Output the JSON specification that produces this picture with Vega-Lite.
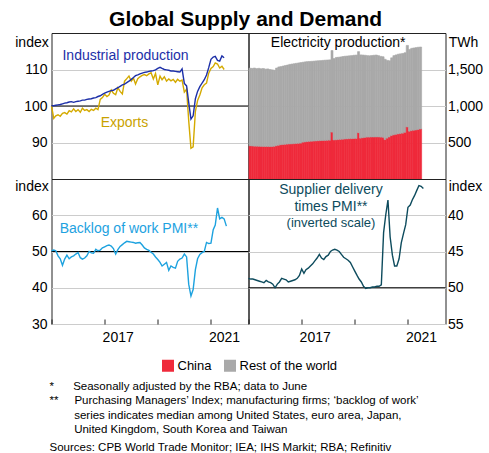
{
"$schema":"https://vega.github.io/schema/vega-lite/v6.json",
"padding":{"left":13.5,"top":9,"right":2,"bottom":2},
"title":{"text":"Global Supply and Demand","anchor":"middle","fontSize":21,"fontWeight":"bold","font":"Liberation Sans","color":"#000","offset":2.5,"dx":-3},
"spacing":4,
"config":{
 "font":"Liberation Sans",
 "view":{"stroke":"#222222","strokeWidth":1},
 "axis":{"labelFont":"Liberation Sans","labelFontSize":14,"labelColor":"#000","titleFont":"Liberation Sans","titleFontSize":14,"titleFontWeight":"normal","titleColor":"#000","ticks":false,"domain":false,"gridColor":"#cccccc","gridWidth":1,"labelOverlap":false},
 "text":{"font":"Liberation Sans"}
},
"datasets":{
"m":[
{"date":"2015-01","ip":100.0,"ex":100.0,"bk":50.2,"sd":48.7},
{"date":"2015-02","ip":100.1,"ex":96.6,"bk":50.4,"sd":48.8},
{"date":"2015-03","ip":100.2,"ex":97.3,"bk":50.2,"sd":48.8},
{"date":"2015-04","ip":100.3,"ex":97.6,"bk":48.8,"sd":48.9},
{"date":"2015-05","ip":100.4,"ex":97.2,"bk":48.0,"sd":49.0},
{"date":"2015-06","ip":100.6,"ex":98.0,"bk":46.2,"sd":49.1},
{"date":"2015-07","ip":100.8,"ex":98.2,"bk":47.9,"sd":49.2},
{"date":"2015-08","ip":100.9,"ex":97.8,"bk":49.0,"sd":49.3},
{"date":"2015-09","ip":101.1,"ex":98.7,"bk":48.0,"sd":49.0},
{"date":"2015-10","ip":101.2,"ex":98.4,"bk":48.5,"sd":49.2},
{"date":"2015-11","ip":101.0,"ex":99.2,"bk":48.8,"sd":49.3},
{"date":"2015-12","ip":101.2,"ex":98.5,"bk":49.3,"sd":49.5},
{"date":"2016-01","ip":101.3,"ex":99.0,"bk":49.7,"sd":50.0},
{"date":"2016-02","ip":101.4,"ex":98.3,"bk":48.3,"sd":49.5},
{"date":"2016-03","ip":101.6,"ex":99.4,"bk":47.9,"sd":49.2},
{"date":"2016-04","ip":101.6,"ex":98.8,"bk":48.2,"sd":48.7},
{"date":"2016-05","ip":101.8,"ex":99.0,"bk":48.8,"sd":48.8},
{"date":"2016-06","ip":101.9,"ex":98.5,"bk":50.0,"sd":48.9},
{"date":"2016-07","ip":102.0,"ex":99.1,"bk":49.6,"sd":49.2},
{"date":"2016-08","ip":102.2,"ex":98.8,"bk":49.5,"sd":49.1},
{"date":"2016-09","ip":102.3,"ex":99.4,"bk":50.6,"sd":49.0},
{"date":"2016-10","ip":102.6,"ex":99.0,"bk":50.2,"sd":48.9},
{"date":"2016-11","ip":102.8,"ex":101.8,"bk":50.4,"sd":48.7},
{"date":"2016-12","ip":103.2,"ex":102.3,"bk":51.0,"sd":48.3},
{"date":"2017-01","ip":103.5,"ex":103.2,"bk":51.3,"sd":47.4},
{"date":"2017-02","ip":103.8,"ex":102.6,"bk":51.6,"sd":48.0},
{"date":"2017-03","ip":104.0,"ex":103.0,"bk":51.8,"sd":47.5},
{"date":"2017-04","ip":104.2,"ex":104.4,"bk":51.5,"sd":47.3},
{"date":"2017-05","ip":104.3,"ex":103.5,"bk":50.8,"sd":47.0},
{"date":"2017-06","ip":104.7,"ex":103.1,"bk":49.3,"sd":46.7},
{"date":"2017-07","ip":105.0,"ex":105.0,"bk":50.5,"sd":46.3},
{"date":"2017-08","ip":105.4,"ex":104.0,"bk":51.4,"sd":45.9},
{"date":"2017-09","ip":105.8,"ex":103.3,"bk":51.9,"sd":45.4},
{"date":"2017-10","ip":106.0,"ex":106.8,"bk":52.4,"sd":45.9},
{"date":"2017-11","ip":106.4,"ex":107.5,"bk":52.8,"sd":46.1},
{"date":"2017-12","ip":106.8,"ex":108.2,"bk":52.7,"sd":45.7},
{"date":"2018-01","ip":107.3,"ex":106.8,"bk":52.6,"sd":45.5},
{"date":"2018-02","ip":107.8,"ex":107.6,"bk":52.5,"sd":45.0},
{"date":"2018-03","ip":108.3,"ex":106.0,"bk":52.3,"sd":44.8},
{"date":"2018-04","ip":108.5,"ex":107.5,"bk":52.4,"sd":44.7},
{"date":"2018-05","ip":108.8,"ex":108.0,"bk":52.5,"sd":44.8},
{"date":"2018-06","ip":109.0,"ex":108.4,"bk":51.8,"sd":45.0},
{"date":"2018-07","ip":109.2,"ex":108.6,"bk":51.0,"sd":45.4},
{"date":"2018-08","ip":109.3,"ex":108.3,"bk":50.6,"sd":45.8},
{"date":"2018-09","ip":109.5,"ex":108.8,"bk":50.3,"sd":46.0},
{"date":"2018-10","ip":109.6,"ex":109.1,"bk":49.8,"sd":46.2},
{"date":"2018-11","ip":109.7,"ex":107.4,"bk":49.3,"sd":46.5},
{"date":"2018-12","ip":109.9,"ex":108.9,"bk":48.5,"sd":47.1},
{"date":"2019-01","ip":110.3,"ex":105.8,"bk":47.8,"sd":47.7},
{"date":"2019-02","ip":110.6,"ex":108.2,"bk":47.0,"sd":48.3},
{"date":"2019-03","ip":110.3,"ex":107.2,"bk":46.0,"sd":48.8},
{"date":"2019-04","ip":110.0,"ex":108.0,"bk":46.5,"sd":49.2},
{"date":"2019-05","ip":109.9,"ex":106.8,"bk":47.0,"sd":49.8},
{"date":"2019-06","ip":109.8,"ex":107.4,"bk":44.8,"sd":50.1},
{"date":"2019-07","ip":109.6,"ex":106.9,"bk":46.0,"sd":50.0},
{"date":"2019-08","ip":109.6,"ex":107.3,"bk":45.6,"sd":50.0},
{"date":"2019-09","ip":109.5,"ex":106.5,"bk":45.4,"sd":49.9},
{"date":"2019-10","ip":109.4,"ex":107.3,"bk":47.3,"sd":49.9},
{"date":"2019-11","ip":109.3,"ex":106.8,"bk":47.9,"sd":49.8},
{"date":"2019-12","ip":110.2,"ex":107.1,"bk":48.2,"sd":49.8},
{"date":"2020-01","ip":106.2,"ex":103.8,"bk":49.3,"sd":49.6},
{"date":"2020-02","ip":105.5,"ex":104.6,"bk":48.5,"sd":42.4},
{"date":"2020-03","ip":101.0,"ex":96.0,"bk":41.0,"sd":40.0},
{"date":"2020-04","ip":96.4,"ex":88.4,"bk":37.7,"sd":37.9},
{"date":"2020-05","ip":97.3,"ex":88.8,"bk":39.5,"sd":43.0},
{"date":"2020-06","ip":102.0,"ex":98.5,"bk":45.0,"sd":45.5},
{"date":"2020-07","ip":104.0,"ex":101.5,"bk":48.0,"sd":47.0},
{"date":"2020-08","ip":105.3,"ex":103.0,"bk":49.2,"sd":47.0},
{"date":"2020-09","ip":106.3,"ex":105.0,"bk":49.7,"sd":46.0},
{"date":"2020-10","ip":107.2,"ex":105.8,"bk":50.0,"sd":43.8},
{"date":"2020-11","ip":108.5,"ex":106.3,"bk":52.5,"sd":42.5},
{"date":"2020-12","ip":110.5,"ex":109.0,"bk":52.2,"sd":41.3},
{"date":"2021-01","ip":112.8,"ex":110.3,"bk":52.3,"sd":38.9},
{"date":"2021-02","ip":113.4,"ex":110.8,"bk":56.0,"sd":38.6},
{"date":"2021-03","ip":113.6,"ex":111.8,"bk":57.3,"sd":37.9},
{"date":"2021-04","ip":112.5,"ex":111.5,"bk":62.0,"sd":37.3},
{"date":"2021-05","ip":112.3,"ex":110.4,"bk":59.0,"sd":36.6},
{"date":"2021-06","ip":113.7,"ex":110.9,"bk":59.4,"sd":35.9},
{"date":"2021-07","ip":113.2,"ex":110.0,"bk":59.0,"sd":36.0},
{"date":"2021-08","ip":null,"ex":null,"bk":57.0,"sd":36.3}
],
"e":[
{"date":"2015-01","China":455,"Rest of the world":1063},
{"date":"2015-02","China":452,"Rest of the world":1063},
{"date":"2015-03","China":450,"Rest of the world":1070},
{"date":"2015-04","China":449,"Rest of the world":1063},
{"date":"2015-05","China":448,"Rest of the world":1068},
{"date":"2015-06","China":447,"Rest of the world":1063},
{"date":"2015-07","China":446,"Rest of the world":1068},
{"date":"2015-08","China":445,"Rest of the world":1060},
{"date":"2015-09","China":445,"Rest of the world":1063},
{"date":"2015-10","China":444,"Rest of the world":1056},
{"date":"2015-11","China":445,"Rest of the world":1050},
{"date":"2015-12","China":448,"Rest of the world":1042},
{"date":"2016-01","China":455,"Rest of the world":1065},
{"date":"2016-02","China":462,"Rest of the world":1073},
{"date":"2016-03","China":470,"Rest of the world":1070},
{"date":"2016-04","China":472,"Rest of the world":1076},
{"date":"2016-05","China":475,"Rest of the world":1080},
{"date":"2016-06","China":478,"Rest of the world":1084},
{"date":"2016-07","China":480,"Rest of the world":1090},
{"date":"2016-08","China":482,"Rest of the world":1093},
{"date":"2016-09","China":484,"Rest of the world":1096},
{"date":"2016-10","China":486,"Rest of the world":1099},
{"date":"2016-11","China":488,"Rest of the world":1102},
{"date":"2016-12","China":492,"Rest of the world":1103},
{"date":"2017-01","China":505,"Rest of the world":1095},
{"date":"2017-02","China":508,"Rest of the world":1097},
{"date":"2017-03","China":512,"Rest of the world":1096},
{"date":"2017-04","China":515,"Rest of the world":1095},
{"date":"2017-05","China":518,"Rest of the world":1094},
{"date":"2017-06","China":520,"Rest of the world":1095},
{"date":"2017-07","China":522,"Rest of the world":1096},
{"date":"2017-08","China":524,"Rest of the world":1096},
{"date":"2017-09","China":526,"Rest of the world":1096},
{"date":"2017-10","China":528,"Rest of the world":1097},
{"date":"2017-11","China":528,"Rest of the world":1100},
{"date":"2017-12","China":530,"Rest of the world":1100},
{"date":"2018-01","China":532,"Rest of the world":1100},
{"date":"2018-02","China":643,"Rest of the world":1117},
{"date":"2018-03","China":535,"Rest of the world":1115},
{"date":"2018-04","China":537,"Rest of the world":1128},
{"date":"2018-05","China":540,"Rest of the world":1128},
{"date":"2018-06","China":542,"Rest of the world":1130},
{"date":"2018-07","China":545,"Rest of the world":1133},
{"date":"2018-08","China":548,"Rest of the world":1134},
{"date":"2018-09","China":550,"Rest of the world":1135},
{"date":"2018-10","China":552,"Rest of the world":1136},
{"date":"2018-11","China":553,"Rest of the world":1137},
{"date":"2018-12","China":555,"Rest of the world":1140},
{"date":"2019-01","China":556,"Rest of the world":1142},
{"date":"2019-02","China":634,"Rest of the world":1111},
{"date":"2019-03","China":560,"Rest of the world":1140},
{"date":"2019-04","China":565,"Rest of the world":1133},
{"date":"2019-05","China":570,"Rest of the world":1125},
{"date":"2019-06","China":574,"Rest of the world":1116},
{"date":"2019-07","China":574,"Rest of the world":1114},
{"date":"2019-08","China":575,"Rest of the world":1117},
{"date":"2019-09","China":575,"Rest of the world":1120},
{"date":"2019-10","China":576,"Rest of the world":1122},
{"date":"2019-11","China":576,"Rest of the world":1114},
{"date":"2019-12","China":574,"Rest of the world":1106},
{"date":"2020-01","China":572,"Rest of the world":1103},
{"date":"2020-02","China":540,"Rest of the world":1100},
{"date":"2020-03","China":560,"Rest of the world":1065},
{"date":"2020-04","China":575,"Rest of the world":1045},
{"date":"2020-05","China":595,"Rest of the world":1065},
{"date":"2020-06","China":605,"Rest of the world":1085},
{"date":"2020-07","China":612,"Rest of the world":1088},
{"date":"2020-08","China":618,"Rest of the world":1092},
{"date":"2020-09","China":622,"Rest of the world":1093},
{"date":"2020-10","China":628,"Rest of the world":1092},
{"date":"2020-11","China":640,"Rest of the world":1090},
{"date":"2020-12","China":713,"Rest of the world":1117},
{"date":"2021-01","China":655,"Rest of the world":1120},
{"date":"2021-02","China":662,"Rest of the world":1128},
{"date":"2021-03","China":668,"Rest of the world":1127},
{"date":"2021-04","China":672,"Rest of the world":1128},
{"date":"2021-05","China":678,"Rest of the world":1127},
{"date":"2021-06","China":685,"Rest of the world":1123}
]
},
"vconcat":[
{"columns":2,"spacing":0,"bounds":"flush","concat":[
 {"width":197,"height":146,"layer":[
  {"data":{"values":[{}]},"mark":{"type":"rule","color":"#000","strokeWidth":1},
   "encoding":{"y":{"datum":100,"type":"quantitative","scale":{"domain":[80,120],"nice":false,"zero":false},"axis":{"values":[90,100,110],"grid":true,"title":"index","titleAngle":0,"titleAlign":"right","titleBaseline":"alphabetic","titleX":-3.3,"titleY":13,"labelPadding":4.5}}}},
  {"data":{"name":"m"},"mark":{"type":"line","color":"#d4aa00","strokeWidth":1.4},
   "encoding":{"x":{"field":"date","type":"temporal","scale":{"type":"utc","domain":[{"year":2015,"month":1,"date":1,"utc":true},{"year":2022,"month":6,"date":1,"utc":true}]},"axis":null},
   "y":{"field":"ex","type":"quantitative","scale":{"domain":[80,120],"nice":false,"zero":false},"axis":{"values":[90,100,110],"grid":true,"title":"index","titleAngle":0,"titleAlign":"right","titleBaseline":"alphabetic","titleX":-3.3,"titleY":13,"labelPadding":4.5}}}},
  {"data":{"name":"m"},"mark":{"type":"line","color":"#1c2fa8","strokeWidth":1.4},
   "encoding":{"x":{"field":"date","type":"temporal","scale":{"type":"utc","domain":[{"year":2015,"month":1,"date":1,"utc":true},{"year":2022,"month":6,"date":1,"utc":true}]},"axis":null},
   "y":{"field":"ip","type":"quantitative","scale":{"domain":[80,120],"nice":false,"zero":false},"axis":{"values":[90,100,110],"grid":true,"title":"index","titleAngle":0,"titleAlign":"right","titleBaseline":"alphabetic","titleX":-3.3,"titleY":13,"labelPadding":4.5}}}},
  {"data":{"values":[{}]},"mark":{"type":"text","text":"Industrial production","align":"left","baseline":"alphabetic","fontSize":14,"color":"#1c2fa8"},
   "encoding":{"x":{"datum":{"year":2015,"month":6,"date":1,"utc":true},"type":"temporal","scale":{"type":"utc","domain":[{"year":2015,"month":1,"date":1,"utc":true},{"year":2022,"month":6,"date":1,"utc":true}]},"axis":null},
   "y":{"datum":112.6,"type":"quantitative","scale":{"domain":[80,120],"nice":false,"zero":false}}}},
  {"data":{"values":[{}]},"mark":{"type":"text","text":"Exports","align":"left","baseline":"alphabetic","fontSize":14,"color":"#c9a200"},
   "encoding":{"x":{"datum":{"year":2016,"month":11,"date":7,"utc":true},"type":"temporal","scale":{"type":"utc","domain":[{"year":2015,"month":1,"date":1,"utc":true},{"year":2022,"month":6,"date":1,"utc":true}]},"axis":null},
   "y":{"datum":94.25,"type":"quantitative","scale":{"domain":[80,120],"nice":false,"zero":false}}}}
 ]},
 {"width":197,"height":146,"layer":[
  {"data":{"name":"e"},"transform":[{"fold":["China","Rest of the world"],"as":["series","value"]}],
   "mark":{"type":"bar","binSpacing":0,"strokeWidth":0.6},
   "encoding":{"x":{"field":"date","timeUnit":"utcyearmonth","type":"temporal","scale":{"type":"utc","domain":[{"year":2015,"month":1,"date":1,"utc":true},{"year":2022,"month":6,"date":1,"utc":true}]},"axis":null},
   "y":{"field":"value","type":"quantitative","stack":"zero","scale":{"domain":[0,2000],"nice":false},"axis":{"orient":"right","values":[500,1000,1500],"format":",.0f","grid":true,"title":"TWh","titleAngle":0,"titleAlign":"left","titleBaseline":"alphabetic","titleX":2.7,"titleY":13,"labelPadding":2}},
   "color":{"field":"series","type":"nominal","scale":{"domain":["China","Rest of the world"],"range":["#ef2a3b","#a9a9a9"]},
     "legend":{"orient":"none","legendX":110,"legendY":326,"direction":"horizontal","title":null,"symbolType":"square","symbolSize":144,"symbolStrokeWidth":0,"symbolOpacity":1,"labelFontSize":13,"labelFont":"Liberation Sans","labelColor":"#000","labelOffset":3,"columnPadding":12}},
   "stroke":{"field":"series","type":"nominal","scale":{"domain":["China","Rest of the world"],"range":["#ef2a3b","#a9a9a9"]},"legend":null},
   "order":{"field":"series","sort":"ascending"}}},
  {"data":{"values":[{}]},"mark":{"type":"text","text":"Electricity production*","align":"center","baseline":"alphabetic","fontSize":14,"color":"#000"},
   "encoding":{"x":{"datum":{"year":2018,"month":5,"date":17,"utc":true},"type":"temporal","scale":{"type":"utc","domain":[{"year":2015,"month":1,"date":1,"utc":true},{"year":2022,"month":6,"date":1,"utc":true}]},"axis":null},
   "y":{"datum":1806,"type":"quantitative","scale":{"domain":[0,2000],"nice":false}}}}
 ]},
 {"width":197,"height":145,"layer":[
  {"data":{"values":[{}]},"mark":{"type":"rule","color":"#000","strokeWidth":1},
   "encoding":{"y":{"datum":50,"type":"quantitative","scale":{"domain":[30,70],"nice":false,"zero":false},"axis":{"values":[30,40,50,60],"grid":true,"title":"index","titleAngle":0,"titleAlign":"right","titleBaseline":"alphabetic","titleX":-3.3,"titleY":11.5,"labelPadding":4.5}}}},
  {"data":{"name":"m"},"mark":{"type":"line","color":"#1da2df","strokeWidth":1.4},
   "encoding":{"x":{"field":"date","type":"temporal","scale":{"type":"utc","domain":[{"year":2015,"month":1,"date":1,"utc":true},{"year":2022,"month":6,"date":1,"utc":true}]},
     "axis":{"values":[{"year":2015,"month":1,"date":1,"utc":true},{"year":2016,"month":1,"date":1,"utc":true},{"year":2017,"month":1,"date":1,"utc":true},{"year":2018,"month":1,"date":1,"utc":true},{"year":2019,"month":1,"date":1,"utc":true},{"year":2020,"month":1,"date":1,"utc":true},{"year":2021,"month":1,"date":1,"utc":true},{"year":2022,"month":1,"date":1,"utc":true}],"format":"%Y","formatType":"utc","labelExpr":"datum.label=='2017'||datum.label=='2021'?datum.label:''","labelOffset":13,"ticks":true,"tickSize":-5,"tickColor":"#222222","labelPadding":22.5,"labelBaseline":"alphabetic","labelFlush":false,"grid":false,"title":null}},
   "y":{"field":"bk","type":"quantitative","scale":{"domain":[30,70],"nice":false,"zero":false},"axis":{"values":[30,40,50,60],"grid":true,"title":"index","titleAngle":0,"titleAlign":"right","titleBaseline":"alphabetic","titleX":-3.3,"titleY":11.5,"labelPadding":4.5}}}},
  {"data":{"values":[{}]},"mark":{"type":"text","text":"Backlog of work PMI**","align":"left","baseline":"alphabetic","fontSize":14,"color":"#1da2df"},
   "encoding":{"x":{"datum":{"year":2015,"month":4,"date":23,"utc":true},"type":"temporal","scale":{"type":"utc","domain":[{"year":2015,"month":1,"date":1,"utc":true},{"year":2022,"month":6,"date":1,"utc":true}]}},
   "y":{"datum":55.2,"type":"quantitative","scale":{"domain":[30,70],"nice":false,"zero":false}}}}
 ]},
 {"width":197,"height":145,"layer":[
  {"data":{"values":[{}]},"mark":{"type":"rule","color":"#000","strokeWidth":1},
   "encoding":{"y":{"datum":50,"type":"quantitative","scale":{"domain":[35,55],"reverse":true,"nice":false,"zero":false},"axis":{"orient":"right","values":[40,45,50,55],"grid":true,"title":"index","titleAngle":0,"titleAlign":"left","titleBaseline":"alphabetic","titleX":2.7,"titleY":11.5,"labelPadding":2}}}},
  {"data":{"name":"m"},"mark":{"type":"line","color":"#0d4b5d","strokeWidth":1.4},
   "encoding":{"x":{"field":"date","type":"temporal","scale":{"type":"utc","domain":[{"year":2015,"month":1,"date":1,"utc":true},{"year":2022,"month":6,"date":1,"utc":true}]},
     "axis":{"values":[{"year":2015,"month":1,"date":1,"utc":true},{"year":2016,"month":1,"date":1,"utc":true},{"year":2017,"month":1,"date":1,"utc":true},{"year":2018,"month":1,"date":1,"utc":true},{"year":2019,"month":1,"date":1,"utc":true},{"year":2020,"month":1,"date":1,"utc":true},{"year":2021,"month":1,"date":1,"utc":true},{"year":2022,"month":1,"date":1,"utc":true}],"format":"%Y","formatType":"utc","labelExpr":"datum.label=='2017'||datum.label=='2021'?datum.label:''","labelOffset":13,"ticks":true,"tickSize":-5,"tickColor":"#222222","labelPadding":22.5,"labelBaseline":"alphabetic","labelFlush":false,"grid":false,"title":null}},
   "y":{"field":"sd","type":"quantitative","scale":{"domain":[35,55],"reverse":true,"nice":false,"zero":false},"axis":{"orient":"right","values":[40,45,50,55],"grid":true,"title":"index","titleAngle":0,"titleAlign":"left","titleBaseline":"alphabetic","titleX":2.7,"titleY":11.5,"labelPadding":2}}}},
  {"data":{"values":[{}]},"mark":{"type":"text","text":"Supplier delivery","align":"center","baseline":"alphabetic","fontSize":14,"color":"#0d4b5d"},
   "encoding":{"x":{"datum":{"year":2018,"month":2,"date":8,"utc":true},"type":"temporal","scale":{"type":"utc","domain":[{"year":2015,"month":1,"date":1,"utc":true},{"year":2022,"month":6,"date":1,"utc":true}]}},
   "y":{"datum":37.1,"type":"quantitative","scale":{"domain":[35,55],"reverse":true,"nice":false,"zero":false}}}},
  {"data":{"values":[{}]},"mark":{"type":"text","text":"times PMI**","align":"center","baseline":"alphabetic","fontSize":14,"color":"#0d4b5d"},
   "encoding":{"x":{"datum":{"year":2018,"month":2,"date":8,"utc":true},"type":"temporal","scale":{"type":"utc","domain":[{"year":2015,"month":1,"date":1,"utc":true},{"year":2022,"month":6,"date":1,"utc":true}]}},
   "y":{"datum":39.45,"type":"quantitative","scale":{"domain":[35,55],"reverse":true,"nice":false,"zero":false}}}},
  {"data":{"values":[{}]},"mark":{"type":"text","text":"(inverted scale)","align":"center","baseline":"alphabetic","fontSize":13,"color":"#0d4b5d"},
   "encoding":{"x":{"datum":{"year":2018,"month":2,"date":8,"utc":true},"type":"temporal","scale":{"type":"utc","domain":[{"year":2015,"month":1,"date":1,"utc":true},{"year":2022,"month":6,"date":1,"utc":true}]}},
   "y":{"datum":41.57,"type":"quantitative","scale":{"domain":[35,55],"reverse":true,"nice":false,"zero":false}}}}
 ]}
]},
{"width":394,"height":1,"view":{"stroke":null},
 "data":{"values":[{}]},
 "mark":{"type":"square","size":0},
 "title":{"text":["*\u00a0\u00a0\u00a0\u00a0\u00a0\u00a0Seasonally adjusted by the RBA; data to June","**\u00a0\u00a0\u00a0\u00a0\u00a0Purchasing Managers’ Index; manufacturing firms; ‘backlog of work’","\u200b\u00a0\u00a0\u00a0\u00a0\u00a0\u00a0\u00a0\u2009series indicates median among United States, euro area, Japan,","\u200b\u00a0\u00a0\u00a0\u00a0\u00a0\u00a0\u00a0\u2009United Kingdom, South Korea and Taiwan"],
  "subtitle":"Sources: CPB World Trade Monitor; IEA; IHS Markit; RBA; Refinitiv",
  "orient":"bottom","anchor":"start","frame":"group","fontSize":11.5,"fontWeight":"normal","color":"#000","lineHeight":14.3,"subtitleFontSize":11.5,"subtitleColor":"#000","subtitlePadding":7,"offset":31,"dx":-2}
}
]
}
